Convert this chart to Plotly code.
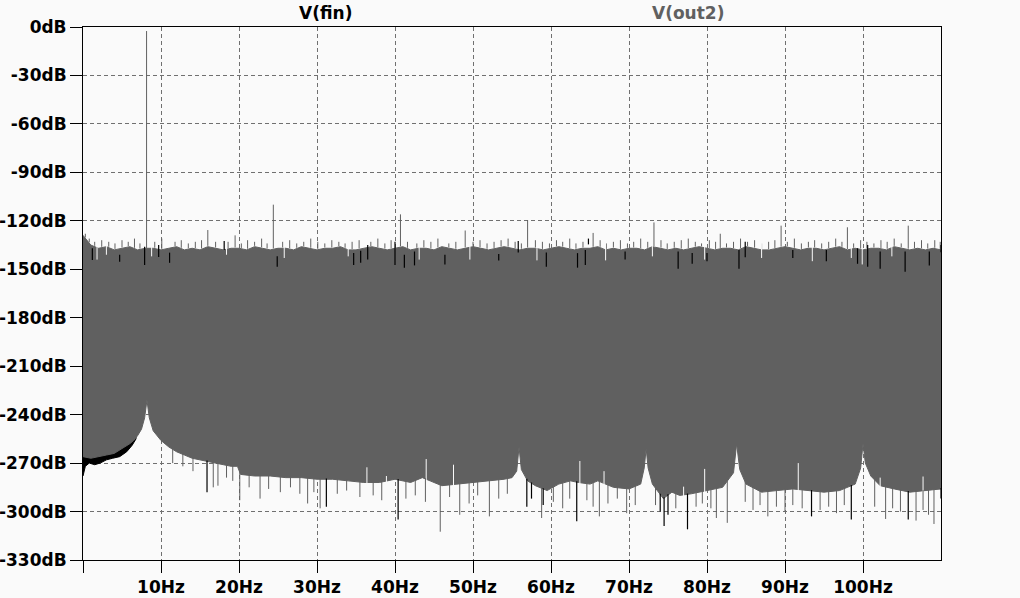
import plotly.graph_objects as go
import numpy as np

# ---------------- data ----------------
# V(out2) noise band: upper envelope (1 Hz grid)
top_f = list(range(0, 111))
top_db = [-129, -135, -137, -136, -138, -137, -136, -138, -137, -137,
          -138, -137, -136, -138, -137, -138, -136, -137, -138, -137,
          -137, -138, -136, -137, -138, -137, -137, -138, -136, -137,
          -138, -137, -137, -136, -138, -138, -137, -136, -137, -138,
          -137, -136, -138, -137, -137, -138, -136, -137, -138, -137,
          -136, -137, -138, -137, -136, -137, -138, -137, -137, -138,
          -137, -136, -137, -138, -137, -137, -136, -138, -137, -138,
          -137, -137, -138, -136, -137, -138, -137, -138, -137, -136,
          -137, -138, -137, -137, -138, -136, -137, -138, -138, -137,
          -136, -137, -138, -137, -137, -138, -137, -136, -138, -137,
          -138, -137, -137, -138, -136, -137, -138, -137, -138, -137, -138]

# V(out2) noise band: lower envelope
bot_f = [0, 1, 2, 3, 4, 5, 6, 6.5, 7, 7.5, 7.9, 8.2, 8.5, 9, 10, 11, 12, 13, 14, 15,
         16, 17, 18, 19, 19.8, 20.2, 22, 24, 26, 28, 30, 32, 34, 36, 38, 40, 42,
         43.5, 44.5, 46, 48, 50, 52, 54, 55, 55.6, 55.9, 56.2, 57, 58, 59.5, 61,
         62.5, 63.5, 65, 66, 68, 70, 71.5, 71.95, 72.2, 72.45, 73, 74.4, 75.5, 76.5,
         78, 80, 82, 83.4, 83.8, 84.2, 85, 87, 89, 91, 93, 95, 97, 99, 99.7, 100,
         100.3, 101, 102.2, 104, 106, 108, 110]
bot_db = [-266, -267, -266, -265, -264, -261, -258, -256, -253, -249, -242, -231, -242, -250, -256,
          -260, -263, -265, -267, -268, -269, -270, -271, -272, -272, -277, -278, -278, -279, -279,
          -280, -280, -281, -282, -282, -280, -282, -279, -281, -284, -283, -282, -281, -280, -279,
          -275, -260, -274, -281, -284, -287, -283, -281, -282, -283, -281, -285, -286, -283, -273,
          -261, -273, -283, -292, -288, -290, -289, -287, -285, -276, -258, -274, -283, -288, -287,
          -286, -287, -288, -287, -283, -273, -258, -270, -278, -284, -286, -288, -287, -286]

# V(fin) lower edge visible below V(out2) at low frequency
fin_low_f = [0, 0.3, 0.8, 1.5, 2.2, 3.0, 3.8, 4.7, 5.6, 6.3, 6.8]
fin_low_db = [-278, -272, -270, -271, -270, -268, -267, -266, -263, -259, -255]

# V(out2) main tone
tone_f = [8.15]
tone_db = [-2.5]

# V(out2) upward spikes above the band
up_f = [16.0, 19.5, 24.4, 40.7, 49.0, 57.0, 65.4, 73.2, 81.7, 89.5, 98.0, 105.8,
        0.3, 0.8, 1.5, 2.4, 3.3, 4.1, 5.0, 5.8, 6.6, 7.3, 9.2, 10.1, 11.8, 12.6, 13.5,
        14.4, 15.2, 17.0, 18.6, 20.3, 21.1, 22.0, 22.9, 23.6, 25.6, 26.5, 27.4, 28.3,
        29.2, 30.1, 31.0, 31.9, 32.8, 33.6, 34.5, 35.4, 36.9, 37.8, 38.7, 39.5, 41.6,
        42.8, 43.7, 44.6, 45.5, 46.9, 47.8, 50.0, 50.9, 51.8, 52.7, 53.6, 54.5, 55.4,
        56.2, 58.0, 58.9, 59.8, 60.7, 61.5, 62.4, 63.2, 64.1, 66.3, 67.1, 68.0, 68.9,
        69.8, 70.6, 71.5, 72.4, 74.1, 74.9, 75.8, 76.7, 77.6, 78.5, 79.3, 80.3, 81.1,
        82.5, 83.4, 84.3, 85.2, 86.1, 87.0, 87.9, 88.7, 90.3, 91.2, 92.1, 93.0, 93.8,
        94.7, 95.6, 96.5, 97.3, 98.8, 99.7, 100.5, 101.4, 102.3, 103.1, 104.0, 104.9,
        106.6, 107.5, 108.3, 109.2, 109.9]
up_db = [-125.7, -129, -110, -116, -126, -119.5, -127.5, -121, -128, -123, -124, -123,
         -128, -131, -133, -132, -133, -134, -132, -133, -131, -134, -133, -131, -133, -132, -134,
         -133, -132, -133, -133, -134, -132, -133, -131, -134, -133, -132, -134, -133,
         -131, -133, -134, -132, -133, -134, -133, -132, -133, -131, -134, -132, -133,
         -134, -132, -133, -131, -134, -133, -133, -132, -134, -133, -132, -131, -133,
         -134, -132, -133, -134, -132, -133, -131, -134, -133, -132, -134, -133, -132,
         -134, -133, -131, -133, -132, -134, -133, -132, -131, -133, -134, -132, -133,
         -134, -133, -131, -133, -132, -134, -133, -132, -133, -131, -134, -133, -132,
         -134, -133, -131, -133, -134, -132, -133, -134, -132, -133, -131, -134,
         -133, -132, -134, -132, -133]

# V(fin) strokes near the top of the band (frequency, upper dB, lower dB)
fin_top_f = [1.2, 4.7, 7.9, 9.7, 11.1, 18.1, 24.9, 34.7, 35.6, 36.5, 40.0, 41.2, 42.5,
             46.4, 53.3, 55.8, 59.4, 63.4, 64.4, 64.8, 69.5, 76.3, 78.1, 80.0, 84.1,
             84.9, 91.0, 95.3, 99.3, 100.6, 102.2, 105.4, 108.5, 110.0]
fin_top_hi = [-137, -141, -136, -135, -139.7, -132.5, -142, -140, -138.5, -135, -133, -141,
              -139, -141, -140.6, -132.5, -139.6, -140, -138, -131, -139, -139, -140, -140,
              -138, -133, -138, -138, -137, -135, -139, -139, -139, -135]
fin_top_lo = [-144.3, -145.3, -147.3, -142.4, -146, -138, -148.4, -147.3, -146, -144, -147.3,
              -149, -147.6, -147, -144.6, -139.6, -148.4, -149, -147.3, -134.6, -144, -149.6,
              -146.6, -145, -149.6, -142.6, -143, -145, -146.6, -148.4, -149.6, -151.6, -147.6,
              -139.5]

# gaps inside the top of the band (frequency, lowest dB of gap)
gap_top_f = [1.8, 3.0, 8.8, 18.4, 25.8, 34.0, 43.1, 49.6, 58.2, 67.0, 73.0, 79.7, 87.0,
             93.5, 98.5, 99.9, 103.7]
gap_top_db = [-144, -141, -142, -141, -143, -142, -144, -144, -144.5, -144.5, -142, -144, -143,
              -145, -143, -147, -142]

# downward dips below the band (V(out2) grey)
dip_f = [16.7, 17.3, 20.1, 22.7, 25.3, 27.8, 28.8, 30.4, 35.5, 45.8, 48.3, 52.1, 58.8, 66.2,
         69.7, 81.2, 82.6, 87.8, 102.9, 106.8, 109.1,
         21.3, 23.8, 26.6, 29.6, 32.6, 33.8, 37.2, 38.3, 41.4, 42.6, 43.9, 47.0, 49.5, 50.6,
         53.3, 54.4, 60.3, 61.5, 62.4, 64.6, 65.4, 67.3, 68.5, 70.8, 73.4, 76.0, 78.6, 79.4,
         80.5, 84.9, 85.9, 86.8, 88.9, 90.0, 91.0, 92.2, 94.5, 95.6, 96.6, 97.6, 101.5,
         103.8, 104.8, 107.7, 108.4, 11.5, 12.8, 14.1, 18.4, 19.2]
dip_db = [-285, -284, -293, -292, -288, -289, -295, -298, -291, -312.5, -302, -303, -304, -303,
          -301, -304, -307, -303, -304.6, -305.6, -307.7,
          -285, -286, -285, -288, -289, -287, -290, -293, -292, -290, -294, -291, -295, -290,
          -292, -289, -294, -298, -292, -293, -297, -295, -292, -296, -296, -298, -297, -295,
          -298, -294, -299, -296, -297, -300, -296, -298, -299, -297, -301, -296, -297,
          -298, -300, -299, -302, -270, -272, -275, -279, -281]

# downward dips below the band (V(fin) black)
fin_dip_f = [15.9, 31.2, 40.4, 56.9, 57.5, 59.0, 63.3, 74.0, 74.5, 75.0, 77.5, 93.4, 98.5,
             105.8, 110.0]
fin_dip_db = [-288, -297, -305, -297, -292, -296, -306, -300, -309, -302, -311, -303, -305,
              -305, -292]

# gaps rising into the bottom of the band (frequency, highest dB of gap)
gap_bot_f = [36.4, 38.9, 44.0, 47.5, 63.7, 66.8, 77.0, 79.7, 91.7, 102.2, 107.7]
gap_bot_db = [-272.6, -278, -267.5, -271, -268.7, -275, -284.6, -273.6, -270, -279, -278.3]

x_ticks = [0, 10, 20, 30, 40, 50, 60, 70, 80, 90, 100]
x_labels = ["", "10Hz", "20Hz", "30Hz", "40Hz", "50Hz", "60Hz", "70Hz", "80Hz", "90Hz", "100Hz"]
y_ticks = [0, -30, -60, -90, -120, -150, -180, -210, -240, -270, -300, -330]
y_labels = ["0dB", "-30dB", "-60dB", "-90dB", "-120dB", "-150dB", "-180dB", "-210dB",
            "-240dB", "-270dB", "-300dB", "-330dB"]

# ---------------- styling ----------------
BG = "#fafafa"
GREY = "#606060"
FONT = dict(family="DejaVu Sans", size=17, color="black", weight="bold")


def segs(fs, a, b):
    xs, ys = [], []
    for f, y0, y1 in zip(fs, a, b):
        xs += [f, f, None]
        ys += [y0, y1, None]
    return xs, ys


def top_env(f):
    return float(np.interp(f, top_f, top_db))


def bot_env(f):
    return float(np.interp(f, bot_f, bot_db))


fig = go.Figure()

# V(fin) low-frequency lower band (black, beneath grey)
fig.add_trace(go.Scatter(
    x=fin_low_f + fin_low_f[::-1],
    y=fin_low_db + [-250] * len(fin_low_f),
    fill="toself", fillcolor="black", mode="lines",
    line=dict(color="black", width=1), hoverinfo="skip", showlegend=False))

# V(out2) band
fig.add_trace(go.Scatter(
    x=top_f + bot_f[::-1],
    y=top_db + bot_db[::-1],
    fill="toself", fillcolor=GREY, mode="lines",
    line=dict(color=GREY, width=1), hoverinfo="skip", showlegend=False))

# upward spikes
xs, ys = segs(up_f, [top_env(f) + 0.5 for f in up_f], up_db)
fig.add_trace(go.Scatter(x=xs, y=ys, mode="lines", line=dict(color=GREY, width=1),
                         hoverinfo="skip", showlegend=False))

# gaps at top
xs, ys = segs(gap_top_f, [-133] * len(gap_top_f), gap_top_db)
fig.add_trace(go.Scatter(x=xs, y=ys, mode="lines", line=dict(color=BG, width=1),
                         hoverinfo="skip", showlegend=False))

# V(fin) strokes near top
xs, ys = segs(fin_top_f, fin_top_hi, fin_top_lo)
fig.add_trace(go.Scatter(x=xs, y=ys, mode="lines", line=dict(color="black", width=1.2),
                         hoverinfo="skip", showlegend=False))

# gaps at bottom
xs, ys = segs(gap_bot_f, [bot_env(f) - 1.5 for f in gap_bot_f], gap_bot_db)
fig.add_trace(go.Scatter(x=xs, y=ys, mode="lines", line=dict(color=BG, width=1),
                         hoverinfo="skip", showlegend=False))

# dips (grey)
xs, ys = segs(dip_f, [bot_env(f) + 0.5 for f in dip_f], dip_db)
fig.add_trace(go.Scatter(x=xs, y=ys, mode="lines", line=dict(color=GREY, width=1),
                         hoverinfo="skip", showlegend=False))

# dips (black)
xs, ys = segs(fin_dip_f, [bot_env(f) + 0.5 for f in fin_dip_f], fin_dip_db)
fig.add_trace(go.Scatter(x=xs, y=ys, mode="lines", line=dict(color="black", width=1.2),
                         hoverinfo="skip", showlegend=False))

# main tone
xs, ys = segs(tone_f, [top_env(f) for f in tone_f], tone_db)
fig.add_trace(go.Scatter(x=xs, y=ys, mode="lines", line=dict(color=GREY, width=1),
                         hoverinfo="skip", showlegend=False))

fig.update_layout(
    width=1020, height=598,
    margin=dict(l=83, r=79, t=27, b=38, autoexpand=False),
    paper_bgcolor=BG, plot_bgcolor=BG,
    showlegend=False,
)
fig.add_annotation(text="V(fin)", x=(297 - 83) / 858, y=1, yref="paper", xref="paper",
                   yanchor="middle", yshift=14, showarrow=False,
                   font=dict(family="DejaVu Sans", size=17, color="black", weight="bold"))
fig.add_annotation(text="V(out2)", x=(726 - 83) / 858, y=1, yref="paper", xref="paper",
                   yanchor="middle", yshift=14, showarrow=False,
                   font=dict(family="DejaVu Sans", size=17, color=GREY, weight="bold"))

fig.update_xaxes(
    range=[0, 110], tickvals=x_ticks, ticktext=x_labels, automargin=False,
    showgrid=True, gridcolor="#707070", gridwidth=1, griddash="4px,3px",
    showline=True, linecolor="black", linewidth=1, mirror=True,
    ticks="outside", ticklen=12, tickcolor="black", tickwidth=1,
    tickfont=FONT, zeroline=False)
fig.update_yaxes(
    range=[-330, 0], tickvals=y_ticks, ticktext=y_labels, automargin=False,
    showgrid=True, gridcolor="#707070", gridwidth=1, griddash="4px,3px",
    showline=True, linecolor="black", linewidth=1, mirror=True,
    ticks="outside", ticklen=12, tickcolor="black", tickwidth=1,
    tickfont=FONT, zeroline=False)

# remove the browser's default 8 px body margin so the figure sits at the page origin
fig.write_html("out.html",
               config={"displayModeBar": False},
               post_script="document.body.style.margin='0';"
                           "document.body.style.background='#fafafa';")
